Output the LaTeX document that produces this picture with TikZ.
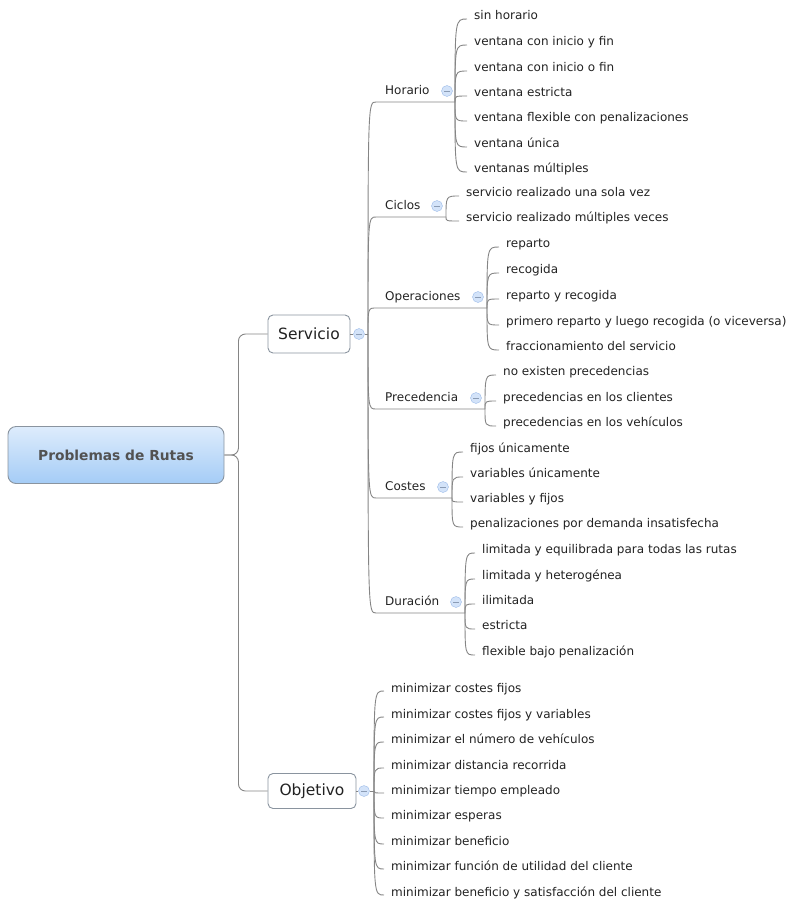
\documentclass[tikz,border=0pt]{standalone}
\usepackage{fontspec}
\setmainfont{DejaVu Sans}

\definecolor{linegray}{HTML}{858585}
\definecolor{textgray}{HTML}{222222}
\definecolor{rootTop}{HTML}{DDECFC}
\definecolor{rootBot}{HTML}{A4CCF6}
\definecolor{rootLine}{HTML}{8A949F}
\definecolor{foldFill}{HTML}{D3E3F9}
\definecolor{foldLine}{HTML}{9DBBE8}

\tikzset{
  leaf/.style={anchor=west, inner sep=0pt, text height=9, text depth=2.5,
    text=textgray, font=\fontsize{12}{14}\selectfont},
  topic/.style={leaf},
  mainbox/.style={draw=rootLine, line width=0.9pt, rounded corners=5pt, fill=white,
    inner sep=0pt, text=textgray, font=\fontsize{15.5}{18}\selectfont},
  rootbox/.style={draw=rootLine, line width=0.9pt, rounded corners=8pt, top color=rootTop,
    bottom color=rootBot, inner sep=0pt, text=black!68,
    font=\fontsize{13.8}{16}\bfseries\selectfont},
  fold/.style={circle, draw=foldLine, fill=foldFill, minimum size=11, inner sep=0pt,
    path picture={\draw[foldLine!70!black!80, line width=0.7pt]
      ([xshift=2.5pt]path picture bounding box.west) --
      ([xshift=-2.5pt]path picture bounding box.east);}},
  branch/.style={draw=linegray, line width=0.9pt},
}

\begin{document}
\begin{tikzpicture}[x=1pt, y=-1pt]
  \useasboundingbox (0,0) rectangle (793,903);

  % Root
  \node[rootbox, minimum width=216, minimum height=57] (root) at (116,455) {Problemas de Rutas};

  % Main branches
  \node[mainbox, minimum width=82, minimum height=38] (servicio) at (309,334) {Servicio};
  \node[mainbox, minimum width=88, minimum height=35] (objetivo) at (312,791) {Objetivo};
  \node[fold] (servicio-c) at (359,334) {};
  \node[fold] (objetivo-c) at (364,791) {};
  \coordinate (servicio-f) at (368,334);
  \coordinate (objetivo-f) at (374,791);

  % Servicio topics
  \node[topic] (horario) at (385,91) {Horario};
  \node[topic] (ciclos) at (385,206) {Ciclos};
  \node[topic] (operaciones) at (385,297) {Operaciones};
  \node[topic] (precedencia) at (385,398) {Precedencia};
  \node[topic] (costes) at (385,487) {Costes};
  \node[topic] (duracion) at (385,602) {Duración};

  \node[fold] (horario-c) at (447,91) {};
  \node[fold] (ciclos-c) at (437,206) {};
  \node[fold] (operaciones-c) at (478,297) {};
  \node[fold] (precedencia-c) at (476,398) {};
  \node[fold] (costes-c) at (443,487) {};
  \node[fold] (duracion-c) at (456,602) {};

  % Horario
  \node[leaf] (h1) at (474,16) {sin horario};
  \node[leaf] (h2) at (474,42) {ventana con inicio y fin};
  \node[leaf] (h3) at (474,68) {ventana con inicio o fin};
  \node[leaf] (h4) at (474,93) {ventana estricta};
  \node[leaf] (h5) at (474,118) {ventana flexible con penalizaciones};
  \node[leaf] (h6) at (474,144) {ventana única};
  \node[leaf] (h7) at (474,169) {ventanas múltiples};

  % Ciclos
  \node[leaf] (c1) at (466,193) {servicio realizado una sola vez};
  \node[leaf] (c2) at (466,218) {servicio realizado múltiples veces};

  % Operaciones
  \node[leaf] (op1) at (506,244) {reparto};
  \node[leaf] (op2) at (506,270) {recogida};
  \node[leaf] (op3) at (506,296) {reparto y recogida};
  \node[leaf] (op4) at (506,322) {primero reparto y luego recogida (o viceversa)};
  \node[leaf] (op5) at (506,347) {fraccionamiento del servicio};

  % Precedencia
  \node[leaf] (p1) at (503,372) {no existen precedencias};
  \node[leaf] (p2) at (503,398) {precedencias en los clientes};
  \node[leaf] (p3) at (503,423) {precedencias en los vehículos};

  % Costes
  \node[leaf] (k1) at (470,449) {fijos únicamente};
  \node[leaf] (k2) at (470,474) {variables únicamente};
  \node[leaf] (k3) at (470,499) {variables y fijos};
  \node[leaf] (k4) at (470,524) {penalizaciones por demanda insatisfecha};

  % Duracion
  \node[leaf] (d1) at (482,550) {limitada y equilibrada para todas las rutas};
  \node[leaf] (d2) at (482,576) {limitada y heterogénea};
  \node[leaf] (d3) at (482,601) {ilimitada};
  \node[leaf] (d4) at (482,626) {estricta};
  \node[leaf] (d5) at (482,652) {flexible bajo penalización};

  % Objetivo
  \node[leaf] (o1) at (391,689) {minimizar costes fijos};
  \node[leaf] (o2) at (391,715) {minimizar costes fijos y variables};
  \node[leaf] (o3) at (391,740) {minimizar el número de vehículos};
  \node[leaf] (o4) at (391,766) {minimizar distancia recorrida};
  \node[leaf] (o5) at (391,791) {minimizar tiempo empleado};
  \node[leaf] (o6) at (391,816) {minimizar esperas};
  \node[leaf] (o7) at (391,842) {minimizar beneficio};
  \node[leaf] (o8) at (391,867) {minimizar función de utilidad del cliente};
  \node[leaf] (o9) at (391,893) {minimizar beneficio y satisfacción del cliente};

  % Connection points
  \foreach \t/\fx in {horario/455, ciclos/446, operaciones/487,
                      precedencia/485, costes/452, duracion/465} {
    \coordinate (\t-in) at ([shift={(-9,11)}]\t.west);
    \coordinate (\t-f) at (\fx,0 |- \t-in);
  }
  \foreach \n in {h1,h2,h3,h4,h5,h6,h7,c1,c2,op1,op2,op3,op4,op5,
                  p1,p2,p3,k1,k2,k3,k4,d1,d2,d3,d4,d5}
    \coordinate (\n-in) at ([shift={(-7,3)}]\n.west);
  \foreach \n in {o1,o2,o3,o4,o5,o6,o7,o8,o9}
    \coordinate (\n-in) at ([shift={(-7,2)}]\n.west);

  % Draw branches
  \draw[branch, rounded corners=7] (root.east) -- ++(14,0) |- (servicio.west);
  \draw[branch, rounded corners=7] (root.east) -- ++(14,0) |- (objetivo.west);
  \draw[branch] (servicio.east) -- (servicio-c);
  \draw[branch] (servicio-c) -- (servicio-f);
  \draw[branch] (objetivo.east) -- (objetivo-c);
  \draw[branch] (objetivo-c) -- (objetivo-f);

  \foreach \t in {horario,ciclos,operaciones,precedencia,costes,duracion}
    \draw[branch] (servicio-f) .. controls (servicio-f |- \t-in) .. (\t-in) -- (\t-f);

  \foreach \n/\t in {h1/horario,h2/horario,h3/horario,h4/horario,h5/horario,h6/horario,h7/horario,
                     c1/ciclos,c2/ciclos,
                     op1/operaciones,op2/operaciones,op3/operaciones,op4/operaciones,op5/operaciones,
                     p1/precedencia,p2/precedencia,p3/precedencia,
                     k1/costes,k2/costes,k3/costes,k4/costes,
                     d1/duracion,d2/duracion,d3/duracion,d4/duracion,d5/duracion,
                     o1/objetivo,o2/objetivo,o3/objetivo,o4/objetivo,o5/objetivo,
                     o6/objetivo,o7/objetivo,o8/objetivo,o9/objetivo}
    \draw[branch] (\t-f) .. controls (\t-f |- \n-in) .. (\n-in);
\end{tikzpicture}
\end{document}
